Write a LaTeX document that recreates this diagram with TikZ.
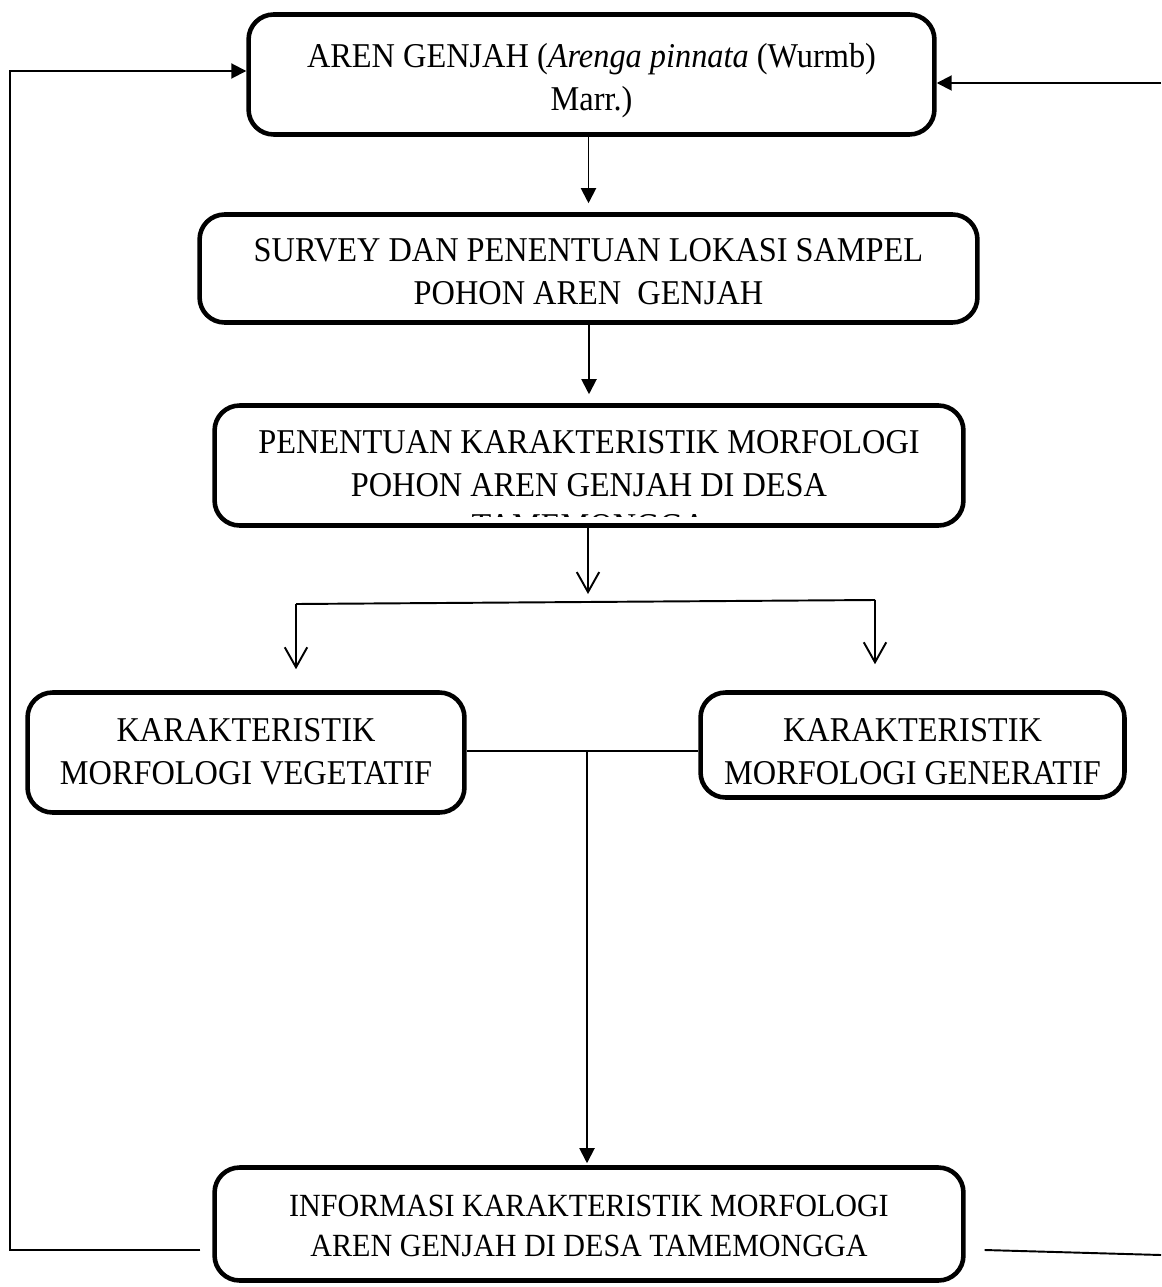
\documentclass[tikz,border=0pt]{standalone}
\usepackage{fontspec}
\setmainfont{Liberation Serif}[FakeStretch=0.93]
\usetikzlibrary{arrows.meta}
\tikzset{
  stepbox/.style={draw=black, line width=2.6pt, rounded corners=0.5cm, inner sep=0pt},
  steptext/.style={align=center, inner sep=0pt, font=\fontsize{19.8}{24.5}\selectfont},
  link/.style={line width=1.1pt, draw=black},
  solidtip/.style={-{Triangle[length=0.3cm,width=0.3cm]}},
  opentip/.style={-{Straight Barb[length=0.4cm,width=0.45cm,line width=1.1pt]}},
}

\begin{document}
\begin{tikzpicture}[x=0.02cm, y=-0.02cm]
\useasboundingbox (0,0) rectangle (1161,1287);
% boxes
\node[stepbox, minimum width=13.72cm, minimum height=2.4cm] (aren) at (591.5,74.5) {};
\node[stepbox, minimum width=15.56cm, minimum height=2.16cm] (survey) at (588.5,268.5) {};
\node[stepbox, minimum width=14.98cm, minimum height=2.4cm] (penentuan) at (589,465.5) {};
\node[stepbox, minimum width=8.74cm, minimum height=2.4cm] (vegetatif) at (246,752.5) {};
\node[stepbox, minimum width=8.48cm, minimum height=2.1cm] (generatif) at (912.5,745) {};
\node[stepbox, minimum width=14.98cm, minimum height=2.26cm] (informasi) at (589,1224) {};
% texts
\node[steptext] (arentext) at (591.5,81)
  {AREN GENJAH (\textit{Arenga pinnata} (Wurmb)\\Marr.)};
\node[steptext] (surveytext) at (588.5,272)
  {SURVEY DAN PENENTUAN LOKASI SAMPEL\\POHON AREN\ \ GENJAH};
\node[steptext] (penentuantext) at (589,464)
  {PENENTUAN KARAKTERISTIK MORFOLOGI\\POHON AREN GENJAH DI DESA};
\begin{scope}
  \clip (230,506) rectangle (950,516);
  \node[steptext] (desatext) at (589,526) {TAMEMONGGA};
\end{scope}
\node[steptext] (vegetatiftext) at (246,752)
  {KARAKTERISTIK\\MORFOLOGI VEGETATIF};
\node[steptext] (generatiftext) at (912.5,752)
  {KARAKTERISTIK\\MORFOLOGI GENERATIF};
\node[steptext, font=\fontsize{18.4}{22.8}\selectfont] (informasitext) at (589,1226)
  {INFORMASI KARAKTERISTIK MORFOLOGI\\AREN GENJAH DI DESA TAMEMONGGA};
% junctions
\coordinate (fork) at (588,602);
\coordinate (forkL) at (296,604);
\coordinate (forkR) at (875,600);
\coordinate (mid) at (587,751);
\coordinate (loopL) at (10,1250);
\coordinate (loopRb) at (1161,1255);
\coordinate (loopRt) at (1161,83);
% connectors
\draw[link, solidtip, shorten >=0.18cm] (aren.south -| survey.north) -- (survey.north);
\draw[link, solidtip, shorten >=0.18cm] (survey.south -| penentuan.north) -- (penentuan.north);
\draw[link, opentip, shorten >=0.16cm] (penentuan.south -| fork) -- (fork);
\draw[link] (forkL) -- (forkR);
\draw[link, opentip, shorten >=0.42cm] (forkL) -- (forkL |- vegetatif.north);
\draw[link, opentip, shorten >=0.52cm] (forkR) -- (forkR |- generatif.north);
\draw[link] (vegetatif.east |- mid) -- (generatif.west |- mid);
\draw[link, solidtip, shorten >=0.04cm] (mid) -- (mid |- informasi.north);
% feedback
\draw[link, solidtip] ([xshift=-0.24cm]informasi.west |- loopL) -- (loopL) |- ([yshift=0.07cm]aren.west);
\draw[link] ([xshift=0.38cm]informasi.east |- loopL) -- (loopRb);
\draw[link, solidtip] (loopRt) -- (aren.east |- loopRt);
\end{tikzpicture}
\end{document}
